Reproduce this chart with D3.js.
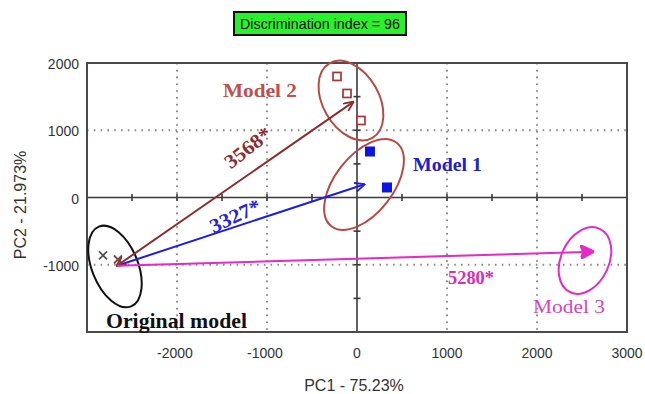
<!DOCTYPE html>
<html><head><meta charset="utf-8">
<script src="https://cdn.jsdelivr.net/npm/d3@7"></script>
<style>
html,body{margin:0;padding:0;background:#fff;}
svg{display:block;}
</style></head>
<body>
<svg id="chart" width="645" height="394"></svg>
<script>
// ---- data ----
const xTicks = [-2000, -1000, 0, 1000, 2000, 3000];
const yTicks = [-1000, 0, 1000, 2000];
const xGrid = [-2000, -1000, 1000, 2000];
const yGrid = [-1000, 1000];
const minorTicks = [-2500, -2000, -1500, -1000, -500, 500, 1000, 1500, 2000, 2500];
const minorTicksY = [-1500, -1000, -500, 500, 1000, 1500];

const originalPC1 = [-2822, -2656];
const originalPC2 = [-862, -922];
const model1PC1 = [144, 333];
const model1PC2 = [684, 149];
const model2PC1 = [-222, -111, 44];
const model2PC2 = [1800, 1547, 1145];

const arrowFrom = [-2667, -1015];
const arrowNames = ["Model 1", "Model 2", "Model 3"];
const arrowToPC1 = [78, -44, 2622];
const arrowToPC2 = [194, 1418, -806];
const distances = ["3327*", "3568*", "5280*"];

const groupNames = ["Original model", "Model 1", "Model 2", "Model 3"];
const groupCenterPC1 = [-2689, 78, -67, 2533];
const groupCenterPC2 = [-1026, 193, 1442, -937];

const titleText = "Discrimination index = 96";
const xTitle = "PC1 - 75.23%";
const yTitle = "PC2 - 21.973%";

// ---- layout ----
const svg = d3.select("#chart");
const L = 87, R = 627, T = 63, B = 332;
const x = d3.scaleLinear().domain([-3000, 3000]).range([L, R]);
const y = d3.scaleLinear().domain([-2000, 2000]).range([B, T]);

const brown = "#8e2c2c", rose = "#c0504d", ell = "#b84a42", blue = "#1f1fe0", mag = "#e62ac8";

// title box
const tb = svg.append("g");
tb.append("rect").attr("x", 234).attr("y", 12).attr("width", 172).attr("height", 23)
  .attr("fill", "#2af22a").attr("stroke", "#111").attr("stroke-width", 2);
tb.append("text").attr("x", 320).attr("y", 28.5).attr("text-anchor", "middle")
  .attr("font-family", "Liberation Sans Narrow, Liberation Sans, Arial, sans-serif")
  .attr("font-size", 14).attr("textLength", 160).attr("lengthAdjust", "spacingAndGlyphs")
  .attr("fill", "#111").text(titleText);

// grid
const g = svg.append("g");
g.selectAll(".vg").data(xGrid).join("line")
  .attr("x1", d => x(d)).attr("x2", d => x(d)).attr("y1", T).attr("y2", B)
  .attr("stroke", "#8a8a8a").attr("stroke-width", 2).attr("stroke-dasharray", "1.6,5.2").attr("stroke-linecap","butt");
g.selectAll(".hg").data(yGrid).join("line")
  .attr("y1", d => y(d)).attr("y2", d => y(d)).attr("x1", L).attr("x2", R)
  .attr("stroke", "#8a8a8a").attr("stroke-width", 2).attr("stroke-dasharray", "1.6,5.2");

// zero axes
g.append("line").attr("x1", L).attr("x2", R).attr("y1", y(0)).attr("y2", y(0))
  .attr("stroke", "#3a3a3a").attr("stroke-width", 1.6);
g.append("line").attr("x1", x(0)).attr("x2", x(0)).attr("y1", T).attr("y2", B)
  .attr("stroke", "#3a3a3a").attr("stroke-width", 1.6);
g.selectAll(".mt").data(minorTicks).join("line")
  .attr("x1", d => x(d)).attr("x2", d => x(d)).attr("y1", y(0) - 3.5).attr("y2", y(0) + 3.5)
  .attr("stroke", "#3a3a3a").attr("stroke-width", 1.6);
g.selectAll(".mty").data(minorTicksY).join("line")
  .attr("y1", d => y(d)).attr("y2", d => y(d)).attr("x1", x(0) - 3.5).attr("x2", x(0) + 3.5)
  .attr("stroke", "#3a3a3a").attr("stroke-width", 1.6);

// frame
svg.append("rect").attr("x", L).attr("y", T).attr("width", R - L).attr("height", B - T)
  .attr("fill", "none").attr("stroke", "#4a4a4a").attr("stroke-width", 2);

// tick labels
const tickFont = "Liberation Sans, Arial, sans-serif";
svg.append("g").selectAll("text").data(xTicks).join("text")
  .attr("x", d => x(d) - (d < 0 ? 2 : 0)).attr("y", 358).attr("text-anchor", "middle")
  .attr("font-family", tickFont).attr("font-size", 14).attr("fill", "#333")
  .text(d => d3.format("d")(d).replace("−", "-"));
svg.append("g").selectAll("text").data(yTicks).join("text")
  .attr("x", 79).attr("y", d => y(d) + 6).attr("text-anchor", "end")
  .attr("font-family", tickFont).attr("font-size", 14).attr("fill", "#333")
  .text(d => d3.format("d")(d).replace("−", "-"));

// axis titles
svg.append("text").attr("x", 354).attr("y", 391).attr("text-anchor", "middle")
  .attr("font-family", tickFont).attr("font-size", 16).attr("fill", "#333").text(xTitle);
svg.append("text").attr("transform", "translate(26,205) rotate(-90)").attr("text-anchor", "middle")
  .attr("font-family", tickFont).attr("font-size", 16).attr("fill", "#333").text(yTitle);

// ellipses (pixel radii + rotation, centred on group centres)
const ellRx = [23, 29, 28, 24], ellRy = [43, 53, 43, 35], ellRot = [-22, 38, -30, 25];
const ellColor = ["#111", ell, ell, mag];
svg.append("g").selectAll("ellipse").data(groupNames).join("ellipse")
  .attr("transform", (d, i) => `translate(${x(groupCenterPC1[i])},${y(groupCenterPC2[i])}) rotate(${ellRot[i]})`)
  .attr("rx", (d, i) => ellRx[i]).attr("ry", (d, i) => ellRy[i])
  .attr("fill", "none").attr("stroke", (d, i) => ellColor[i]).attr("stroke-width", 2);

// points
const pts = svg.append("g");
pts.selectAll(".orig").data(originalPC1).join("path")
  .attr("d", (d, i) => {
    const cx = x(d), cy = y(originalPC2[i]), s = 4;
    return `M${cx - s},${cy - s}L${cx + s},${cy + s}M${cx - s},${cy + s}L${cx + s},${cy - s}`;
  })
  .attr("stroke", (d, i) => i === 0 ? "#555" : "#7a4a4a").attr("stroke-width", 1.8).attr("fill", "none");
pts.selectAll(".m2").data(model2PC1).join("rect")
  .attr("x", d => x(d) - 4).attr("y", (d, i) => y(model2PC2[i]) - 4)
  .attr("width", 8).attr("height", 8).attr("fill", "#fff").attr("stroke", "#a8343a").attr("stroke-width", 1.7);
pts.selectAll(".m1").data(model1PC1).join("rect")
  .attr("x", d => x(d) - 5).attr("y", (d, i) => y(model1PC2[i]) - 5)
  .attr("width", 10).attr("height", 10).attr("fill", "#0a14e6");

// arrows
const defs = svg.append("defs");
const arrowColor = [blue, brown, mag];
arrowColor.forEach((c, i) => {
  const big = i === 2;
  defs.append("marker").attr("id", "ah" + i).attr("viewBox", "0 0 10 10")
    .attr("refX", 9).attr("refY", 5).attr("markerUnits", "userSpaceOnUse")
    .attr("markerWidth", big ? 14 : 11).attr("markerHeight", big ? 14 : 10).attr("orient", "auto")
    .append("path").attr("d", big ? "M0,0L10,5L0,10L2,5Z" : "M0,0.5L10,5L0,9.5")
    .attr("fill", big ? c : "none").attr("stroke", c).attr("stroke-width", big ? 1.5 : 1.8);
});
defs.append("marker").attr("id", "as1").attr("viewBox", "0 0 10 10")
  .attr("refX", 1).attr("refY", 5).attr("markerUnits", "userSpaceOnUse")
  .attr("markerWidth", 10).attr("markerHeight", 10).attr("orient", "auto")
  .append("path").attr("d", "M10,0.5L0,5L10,9.5").attr("fill", "none").attr("stroke", brown).attr("stroke-width", 1.8);

svg.append("g").selectAll("line").data(arrowNames).join("line")
  .attr("x1", x(arrowFrom[0])).attr("y1", y(arrowFrom[1]))
  .attr("x2", (d, i) => x(arrowToPC1[i])).attr("y2", (d, i) => y(arrowToPC2[i]))
  .attr("stroke", (d, i) => arrowColor[i]).attr("stroke-width", 2)
  .attr("marker-end", (d, i) => `url(#ah${i})`)
  .attr("marker-start", (d, i) => i === 1 ? "url(#as1)" : null);

// labels
const serif = "Liberation Serif, Times New Roman, serif";
const lab = svg.append("g").attr("font-family", serif);
lab.append("text").attr("x", 106).attr("y", 328).attr("font-size", 20).attr("font-weight", "bold")
  .attr("textLength", 141).attr("lengthAdjust", "spacingAndGlyphs").attr("fill", "#111").text(groupNames[0]);
lab.append("text").attr("x", 413).attr("y", 171).attr("font-size", 19).attr("font-weight", "bold")
  .attr("textLength", 69).attr("lengthAdjust", "spacingAndGlyphs").attr("fill", "#2121c8").text(groupNames[1]);
lab.append("text").attr("x", 223).attr("y", 97).attr("font-size", 19).attr("font-weight", "bold")
  .attr("textLength", 74).attr("lengthAdjust", "spacingAndGlyphs").attr("fill", rose).text(groupNames[2]);
lab.append("text").attr("x", 533).attr("y", 313).attr("font-size", 19)
  .attr("textLength", 72).attr("lengthAdjust", "spacingAndGlyphs").attr("fill", "#d744c4").text(groupNames[3]);

// distance labels
lab.append("text").attr("transform", "translate(252,153) rotate(-38)").attr("text-anchor", "middle")
  .attr("font-size", 20).attr("font-weight", "bold").attr("fill", brown)
  .attr("textLength", 54).attr("lengthAdjust", "spacingAndGlyphs").text(distances[1]);
lab.append("text").attr("transform", "translate(238,222) rotate(-25)").attr("text-anchor", "middle")
  .attr("font-size", 20).attr("font-weight", "bold").attr("fill", "#2424e0")
  .attr("textLength", 54).attr("lengthAdjust", "spacingAndGlyphs").text(distances[0]);
lab.append("text").attr("x", 448).attr("y", 284)
  .attr("font-size", 19).attr("font-weight", "bold").attr("fill", "#e02ab8")
  .attr("textLength", 46).attr("lengthAdjust", "spacingAndGlyphs").text(distances[2]);
</script>
</body></html>
